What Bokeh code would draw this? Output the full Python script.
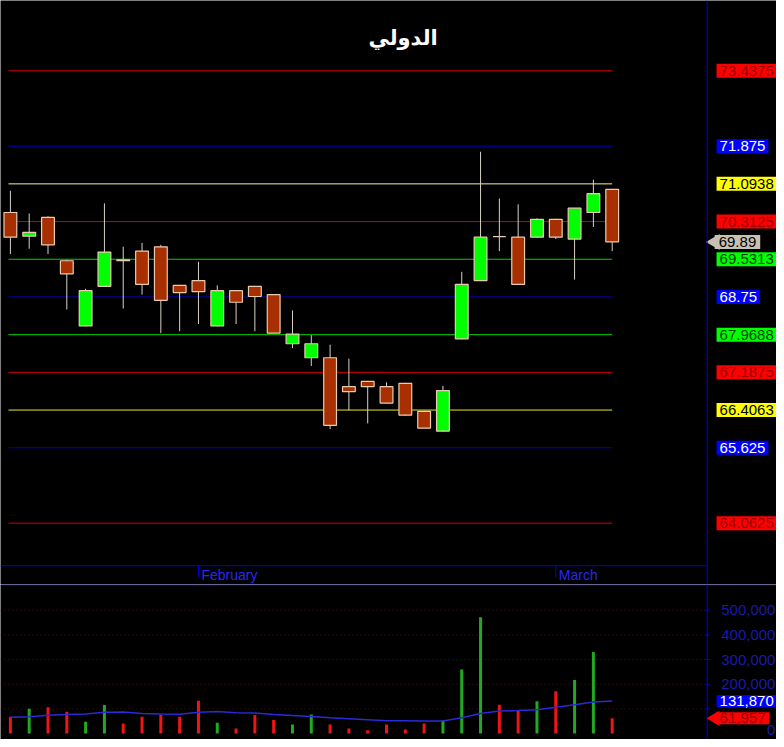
import math
from bokeh.plotting import figure
from bokeh.models import ColumnDataSource, Span
from bokeh.layouts import column
from bokeh.embed import file_html
from bokeh.resources import INLINE
from bokeh.core.properties import value

# ---------------- data ----------------
title_text = "الدولي"

opens  = [70.50, 70.01, 70.40, 69.50, 68.15, 68.97, 69.52, 69.70, 69.79, 68.99, 69.09,
          68.15, 68.88, 68.97, 68.80, 67.78, 67.49, 67.49, 66.89, 67.00, 66.89, 66.96,
          66.38, 65.97, 67.88, 69.09, 70.00, 69.99, 69.99, 70.36, 69.95, 70.50, 70.98]
highs  = [70.95, 70.48, 70.42, 69.52, 68.92, 70.69, 69.79, 69.87, 69.83, 69.00, 69.48,
          68.99, 68.89, 68.98, 68.81, 68.47, 67.96, 67.76, 67.47, 67.01, 66.98, 66.97,
          66.39, 66.91, 69.27, 71.76, 70.79, 70.67, 70.38, 70.37, 70.59, 71.18, 70.99]
lows   = [69.64, 69.75, 69.64, 68.49, 68.14, 68.96, 68.51, 68.80, 68.00, 68.04, 68.19,
          68.14, 68.19, 68.04, 68.00, 67.69, 67.32, 66.01, 66.40, 66.13, 66.54, 66.29,
          66.03, 65.96, 67.87, 69.08, 69.70, 69.00, 69.98, 69.95, 69.11, 70.20, 69.70]
closes = [69.99, 70.09, 69.83, 69.23, 68.88, 69.68, 69.50, 69.01, 68.68, 68.84, 68.86,
          68.88, 68.64, 68.76, 68.00, 67.98, 67.78, 66.09, 66.79, 66.89, 66.55, 66.30,
          66.03, 66.81, 69.01, 69.99, 70.00, 69.01, 70.36, 69.99, 70.59, 70.89, 69.89]

volumes = [68000, 101000, 107000, 88000, 48000, 116000, 41000, 68000, 75000, 68000, 133000,
           44000, 21000, 75000, 55000, 37000, 77000, 37000, 21000, 13000, 37000, 17000,
           41000, 53000, 260000, 471000, 117000, 91000, 131000, 171000, 217000, 331000, 61957]
volume_ma = [66000, 68000, 74000, 77000, 79000, 86000, 87000, 81000, 79000, 78000, 86000,
             89000, 84000, 83000, 77000, 73000, 69000, 64000, 60000, 56000, 52000, 52000,
             51000, 51000, 64000, 81000, 91000, 93000, 97000, 107000, 117000, 128000, 131870]

month_idx = [10, 29]
month_names = ["February", "March"]

levels = [73.4375, 71.875, 71.0938, 70.3125, 69.5313, 68.75, 67.9688, 67.1875,
          66.4063, 65.625, 64.0625]
level_labels = ["73.4375", "71.875", "71.0938", "70.3125", "69.5313", "68.75", "67.9688",
                "67.1875", "66.4063", "65.625", "64.0625"]
level_line_colors = ["#d00000", "#0000c8", "#f4f49a", "#d00000", "#00d000", "#0000c8",
                     "#00d000", "#d00000", "#e8e820", "#0000c8", "#d00000"]
level_box_colors = ["#ff0000", "#0000ff", "#ffff00", "#ff0000", "#00ff00", "#0000ff",
                    "#00ff00", "#ff0000", "#ffff00", "#0000ff", "#ff0000"]
level_text_colors = ["#990000", "#ffffff", "#000000", "#990000", "#004400", "#ffffff",
                     "#004400", "#990000", "#000000", "#ffffff", "#990000"]

vol_ticks = [0, 200000, 300000, 400000, 500000]
vol_tick_labels = ["0", "200,000", "300,000", "400,000", "500,000"]
vol_grid = [100000, 200000, 300000, 400000, 500000]

# ---------------- geometry ----------------
W = 776
H_PRICE = 584
H_VOL = 155
X0, X1 = -0.526, 40.737          # x range (candle index units)
AXIS_X = 37.05                   # right-hand scale separator
LINE_X0, LINE_X1 = -0.1, 32.0    # extent of the level lines
LABEL_X = 37.55
PY0, PY1 = 62.791, 74.894        # price range
VY0, VY1 = -24000, 604000        # volume range
px_per_unit = 48.747
DATE_TOP = 73.4375 - 500 / px_per_unit
DATE_TEXT_Y = 73.4375 - 509 / px_per_unit
TICK_BOT = 73.4375 - 512 / px_per_unit

BG = "black"
AXIS_BLUE = "#0000e0"
RED_BODY = "#a83000"
GREEN_BODY = "#00ff00"
BODY_LINE = "#e8cbb0"
WICK = "#d8d2c8"

n = len(closes)
idx = list(range(n))
body_top = [max(o, c) for o, c in zip(opens, closes)]
body_bot = [min(o, c) for o, c in zip(opens, closes)]
body_col = [GREEN_BODY if c > o else (RED_BODY if c < o else WICK) for o, c in zip(opens, closes)]
vol_col = ["#22a822" if c > o else "#f01414" for o, c in zip(opens, closes)]

# ---------------- price figure ----------------
p = figure(width=W, height=H_PRICE, x_range=(X0, X1), y_range=(PY0, PY1),
           x_axis_type=None, y_axis_type=None, toolbar_location=None,
           output_backend="svg", min_border=0)
p.background_fill_color = BG
p.border_fill_color = BG
p.outline_line_color = None
p.grid.visible = False

lv = ColumnDataSource(dict(y=levels, lab=level_labels, lc=level_line_colors,
                           bc=level_box_colors, tc=level_text_colors,
                           x0=[LINE_X0] * len(levels), x1=[LINE_X1] * len(levels),
                           xl=[LABEL_X] * len(levels)))
p.segment(x0="x0", y0="y", x1="x1", y1="y", line_color="lc", line_width=1, source=lv)

cs = ColumnDataSource(dict(x=idx, o=opens, h=highs, l=lows, c=closes,
                           top=body_top, bot=body_bot, col=body_col))
p.segment(x0="x", y0="l", x1="x", y1="h", line_color=WICK, line_width=1, source=cs)
p.vbar(x="x", top="top", bottom="bot", width=0.68, fill_color="col",
       line_color=BODY_LINE, line_width=1.2, source=cs)

p.text(x="xl", y="y", text="lab", text_color="tc", background_fill_color="bc",
       text_font=value("Liberation Sans"), text_font_size="15px",
       text_align="left", text_baseline="middle", padding=(3, 2), source=lv)

# last close marker
p.scatter(x=[AXIS_X + 0.42], y=[closes[-1]], marker="triangle", angle=math.pi / 2,
          size=16, fill_color="#c8c0b2", line_color=None)
p.text(x=[LABEL_X - 0.1], y=[closes[-1]], text=[f"{closes[-1]:.2f}"], text_color="#000000",
       background_fill_color="#c8c0b2", text_font=value("Liberation Sans"),
       text_font_size="15px", text_align="left", text_baseline="middle", padding=(4, 2))

# title
p.text(x=[(X0 + AXIS_X) / 2 + 2.62], y=[74.114], text=[title_text], text_color="white",
       text_font=value("DejaVu Sans"), text_font_style="bold", text_font_size="21px",
       text_align="center", text_baseline="middle")

# date band
p.segment(x0=[X0], y0=[DATE_TOP], x1=[AXIS_X], y1=[DATE_TOP], line_color=AXIS_BLUE, line_width=1)
p.segment(x0=month_idx, y0=[DATE_TOP] * len(month_idx), x1=month_idx,
          y1=[TICK_BOT] * len(month_idx), line_color=AXIS_BLUE, line_width=1)
p.text(x=[m + 0.16 for m in month_idx], y=[DATE_TEXT_Y] * len(month_idx), text=month_names,
       text_color="#2828f0", text_font=value("Liberation Sans"), text_font_size="14px",
       text_align="left", text_baseline="middle")
p.add_layout(Span(location=AXIS_X, dimension="height", line_color=AXIS_BLUE, line_width=1))

# ---------------- volume figure ----------------
v = figure(width=W, height=H_VOL, x_range=p.x_range, y_range=(VY0, VY1),
           x_axis_type=None, y_axis_type=None, toolbar_location=None,
           output_backend="svg", min_border=0)
v.background_fill_color = BG
v.border_fill_color = BG
v.outline_line_color = None
v.grid.visible = False

v.segment(x0=[X0] * len(vol_grid), y0=vol_grid, x1=[AXIS_X] * len(vol_grid), y1=vol_grid,
          line_color="#4a1414", line_dash="1 3", line_width=1)
v.segment(x0=[AXIS_X - 0.08] * len(vol_grid), y0=vol_grid, x1=[AXIS_X + 0.15] * len(vol_grid),
          y1=vol_grid, line_color=AXIS_BLUE, line_width=1)

vs = ColumnDataSource(dict(x=idx, v=volumes, ma=volume_ma, col=vol_col))
v.vbar(x="x", top="v", bottom=0, width=0.16, fill_color="col", line_color=None, source=vs)
v.line(x="x", y="ma", line_color="#2a2ad8", line_width=1.5, source=vs)

v.text(x=[40.68] * (len(vol_ticks) - 1), y=vol_ticks[1:], text=vol_tick_labels[1:],
       text_color="#1a1aa8", text_font=value("Liberation Sans"), text_font_size="15px",
       text_align="right", text_baseline="middle")
v.text(x=[40.68], y=[vol_ticks[0]], text=[vol_tick_labels[0]], y_offset=-4,
       text_color="#1a1aa8", text_font=value("Liberation Sans"), text_font_size="15px",
       text_align="right", text_baseline="middle")

v.text(x=[LABEL_X], y=[volume_ma[-1]], text=[f"{volume_ma[-1]:,}"], text_color="white",
       background_fill_color="#0000ff", text_font=value("Liberation Sans"),
       text_font_size="15px", text_align="left", text_baseline="middle", padding=(3, 1))
v.scatter(x=[AXIS_X + 0.42], y=[volumes[-1]], marker="triangle", angle=math.pi / 2,
          size=15, fill_color="#ff0000", line_color=None)
v.text(x=[LABEL_X - 0.05], y=[volumes[-1]], text=[f"{volumes[-1]:,}"], text_color="#990000",
       background_fill_color="#ff0000", text_font=value("Liberation Sans"),
       text_font_size="15px", text_align="left", text_baseline="middle", padding=(4, 1))

v.add_layout(Span(location=AXIS_X, dimension="height", line_color=AXIS_BLUE, line_width=1))
v.add_layout(Span(location=VY1 - 2500, dimension="width", line_color=AXIS_BLUE, line_width=1))

layout = column(p, v, spacing=0)
open("out.html", "w").write(file_html(layout, INLINE))
